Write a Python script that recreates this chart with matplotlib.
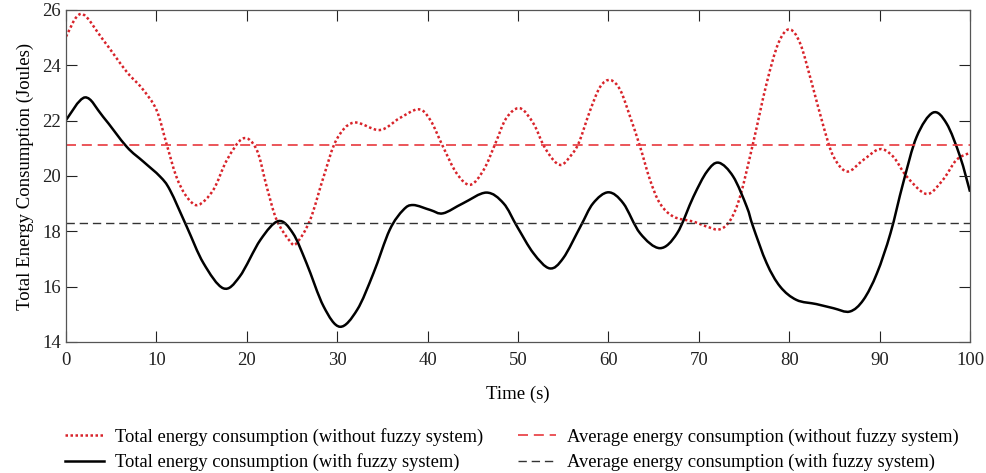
import numpy as np
import matplotlib
matplotlib.use("Agg")
import matplotlib.pyplot as plt
from matplotlib.path import Path
from matplotlib.patches import PathPatch
from matplotlib.lines import Line2D

plt.rcParams['font.family'] = ['Liberation Serif', 'DejaVu Serif']

# without fuzzy system
t_without = [0, 1.7, 4.1, 6.7, 8.4, 10.0, 11.1, 12.2, 13.35, 14.6, 16.3, 17.8, 19.6, 21.1,
             22.2, 23.3, 24.8, 25.5, 27.0, 28.5, 29.9, 31.8, 34.7, 36.9, 39.0, 40.3, 41.7,
             43.2, 44.7, 46.2, 47.5, 48.7, 50.2, 51.7, 52.8, 53.9, 54.8, 55.75, 56.7, 58.0,
             59.1, 60.2, 61.3, 62.4, 63.5, 64.6, 65.7, 67.2, 69.4, 70.9, 72.3, 73.5, 74.6,
             76.0, 77.5, 78.8, 80.0, 81.2, 82.5, 83.8, 84.9, 86.4, 88.2, 90.0, 91.5, 93.0,
             95.2, 97.0, 98.5, 100]
e_without = [25.04, 25.86, 24.92, 23.77, 23.17, 22.39, 21.18, 19.98, 19.25, 18.95, 19.5, 20.58,
             21.36, 20.94, 19.61, 18.41, 17.63, 17.57, 18.41, 19.98, 21.30, 21.93, 21.66, 22.09,
             22.41, 22.02, 21.06, 20.10, 19.68, 20.22, 21.18, 22.09, 22.45, 21.90, 21.12, 20.58,
             20.40, 20.70, 21.18, 22.39, 23.23, 23.47, 23.11, 22.14, 21.06, 19.86, 19.01, 18.53,
             18.35, 18.17, 18.07, 18.41, 19.30, 21.18, 23.35, 24.80, 25.30, 24.80, 23.35, 21.78,
             20.70, 20.16, 20.58, 20.97, 20.70, 19.98, 19.35, 19.86, 20.58, 20.84]

# with fuzzy system
t_with = [0, 2.1, 4.1, 6.7, 8.55, 10.4, 11.5, 13.35, 15.2, 17.4, 19.2, 21.5, 23.5, 25.1,
          26.6, 28.5, 30.3, 32.2, 34.0, 35.8, 37.3, 38.4, 40.3, 41.7, 43.9, 46.5, 48.4,
          49.9, 51.7, 53.5, 55.0, 56.9, 58.3, 60.0, 61.65, 63.5, 65.7, 67.6, 69.4, 70.9,
          72.2, 73.8, 75.3, 76.0, 77.5, 79.0, 80.8, 83.0, 84.9, 86.7, 88.2, 89.7, 91.2,
          92.6, 94.1, 95.9, 97.4, 98.9, 100]
e_with = [22.02, 22.84, 22.14, 21.06, 20.52, 19.98, 19.49, 18.17, 16.85, 15.94, 16.36, 17.69,
          18.37, 17.93, 16.85, 15.28, 14.55, 15.16, 16.48, 18.05, 18.77, 18.95, 18.77, 18.65,
          19.01, 19.40, 19.01, 18.17, 17.21, 16.66, 17.03, 18.17, 19.01, 19.41, 19.01, 17.93,
          17.39, 17.93, 19.25, 20.16, 20.48, 19.98, 18.89, 18.17, 16.85, 16.0, 15.52, 15.37,
          15.22, 15.10, 15.52, 16.48, 17.93, 19.74, 21.42, 22.29, 21.90, 20.70, 19.43]

avg_without = 21.13
avg_with = 18.3

labels = ['Total energy consumption (without fuzzy system)',
          'Total energy consumption (with fuzzy system)',
          'Average energy consumption (without fuzzy system)',
          'Average energy consumption (with fuzzy system)']


def smooth_path(x, y):
    # catmull-rom through the read points, drawn as bezier segments
    p = np.column_stack([x, y]).astype(float)
    p = np.vstack([p[0], p, p[-1]])
    verts = [p[1]]
    codes = [Path.MOVETO]
    for i in range(1, len(p) - 2):
        c1 = p[i] + (p[i + 1] - p[i - 1]) / 6
        c2 = p[i + 1] - (p[i + 2] - p[i]) / 6
        verts += [c1, c2, p[i + 1]]
        codes += [Path.CURVE4] * 3
    return Path(verts, codes)


fig = plt.figure(figsize=(9.87, 4.73), dpi=100)
ax = fig.add_axes([0.0669, 0.277, 0.9159, 0.7019])

red_dot = dict(color='#d8232a', linestyle=(0, (1, 1)), linewidth=1.8)
black_solid = dict(color='black', linestyle='-', linewidth=1.8)

ax.add_patch(PathPatch(smooth_path(t_without, e_without), fill=False,
                       edgecolor=red_dot['color'], linestyle=red_dot['linestyle'],
                       linewidth=red_dot['linewidth']))
ax.add_patch(PathPatch(smooth_path(t_with, e_with), fill=False,
                       edgecolor='black', linewidth=1.8))
l3 = ax.axhline(avg_without, color='#e8383d', linestyle=(0, (6, 3.5)), linewidth=1.2)
l4 = ax.axhline(avg_with, color='#333333', linestyle=(0, (6, 3.5)), linewidth=1.0)
l1 = Line2D([], [], **red_dot)
l2 = Line2D([], [], **black_solid)

ax.set_xlim(0, 100)
ax.set_ylim(14, 26)
ax.set_xticks(np.arange(0, 101, 10))
ax.set_yticks(np.arange(14, 27, 2))
ax.tick_params(direction='in', length=8, top=True, right=True, labelsize=13.5,
               colors='#222222', width=0.8)
ax.tick_params(axis='x', pad=7)
for s in ax.spines.values():
    s.set_color('#555555')
    s.set_linewidth(0.9)
ax.set_xlabel('Time (s)', fontsize=13.5, labelpad=12)
ax.set_ylabel('Total Energy Consumption (Joules)', fontsize=13.5, labelpad=6)

fig.legend([l1, l2, l3, l4], labels, ncol=2, loc='upper center',
           bbox_to_anchor=(0.519, 0.115), frameon=False, fontsize=13.3,
           handlelength=2.1, handletextpad=0.6, columnspacing=1.85,
           labelspacing=0.4, borderpad=0)

fig.savefig('out.png', dpi=100)
